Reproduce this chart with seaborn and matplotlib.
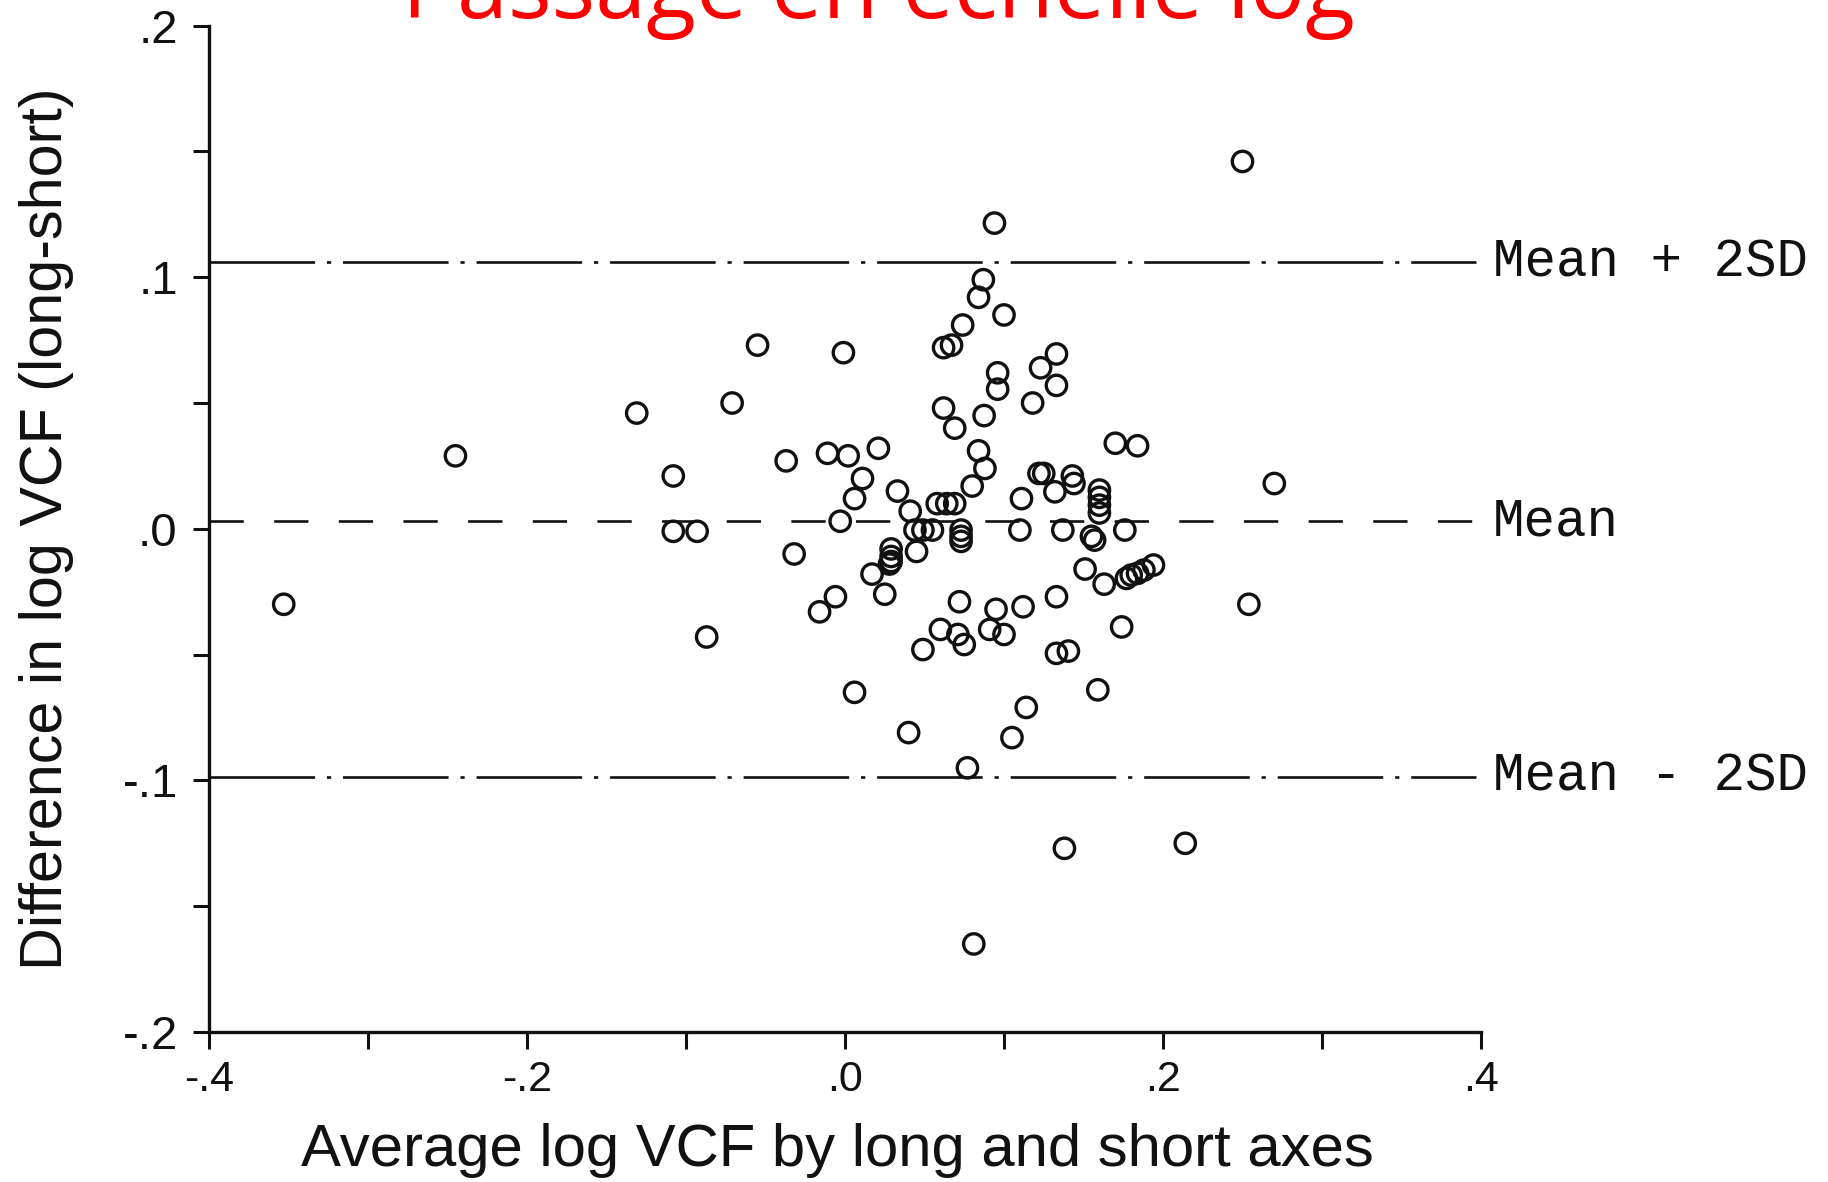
import matplotlib
matplotlib.use("Agg")
import matplotlib.pyplot as plt
import seaborn as sns
import pandas as pd
from matplotlib.ticker import FixedLocator, FixedFormatter

# ---------------- data ----------------
title_text = "Passage en échelle log"
x_label = "Average log VCF by long and short axes"
y_label = "Difference in log VCF (long-short)"

avg_log_vcf = [
    -0.353, -0.245, -0.131, -0.108, -0.108, -0.093, -0.087, -0.071, -0.055, -0.037,
    -0.032, -0.016, -0.011, -0.006, -0.003, -0.001, 0.002, 0.006, 0.011, 0.006,
    0.017, 0.021, 0.025, 0.029, 0.029, 0.029, 0.028, 0.033, 0.041, 0.040,
    0.045, 0.044, 0.049, 0.055, 0.049, 0.058, 0.064, 0.069, 0.060, 0.062,
    0.062, 0.067, 0.069, 0.072, 0.071, 0.075, 0.074, 0.073, 0.073, 0.073,
    0.077, 0.080, 0.084, 0.081, 0.084, 0.087, 0.088, 0.0875, 0.094, 0.091,
    0.095, 0.096, 0.096, 0.100, 0.100, 0.105, 0.110, 0.111, 0.112, 0.114,
    0.118, 0.122, 0.125, 0.123, 0.133, 0.133, 0.132, 0.133, 0.133, 0.137,
    0.138, 0.1405, 0.143, 0.144, 0.151, 0.155, 0.157, 0.159, 0.160, 0.160,
    0.160, 0.160, 0.163, 0.170, 0.174, 0.176, 0.177, 0.180, 0.184, 0.188,
    0.184, 0.194, 0.214, 0.250, 0.254, 0.270,
]
diff_log_vcf = [
    -0.030, 0.029, 0.046, 0.021, -0.001, -0.001, -0.043, 0.050, 0.073, 0.027,
    -0.010, -0.033, 0.030, -0.027, 0.003, 0.070, 0.029, 0.012, 0.020, -0.065,
    -0.018, 0.032, -0.026, -0.008, -0.011, -0.013, -0.014, 0.015, 0.007, -0.081,
    -0.009, -0.0005, -0.0005, -0.0005, -0.048, 0.010, 0.010, 0.010, -0.040, 0.048,
    0.072, 0.073, 0.040, -0.029, -0.042, -0.046, 0.081, -0.0005, -0.003, -0.005,
    -0.095, 0.017, 0.031, -0.165, 0.092, 0.099, 0.024, 0.045, 0.1215, -0.040,
    -0.032, 0.062, 0.0555, -0.042, 0.085, -0.083, -0.0005, 0.012, -0.031, -0.071,
    0.050, 0.022, 0.022, 0.064, 0.0695, 0.057, 0.0147, -0.027, -0.0495, -0.0005,
    -0.127, -0.0486, 0.021, 0.018, -0.016, -0.003, -0.0045, -0.064, 0.0154, 0.0125,
    0.0094, 0.0063, -0.022, 0.034, -0.039, -0.0005, -0.0197, -0.0184, -0.0177, -0.0164,
    0.033, -0.0144, -0.125, 0.146, -0.030, 0.018,
]

mean_diff = 0.003
upper_limit = 0.106
lower_limit = -0.0985
limit_values = [upper_limit, mean_diff, lower_limit]
limit_labels = ["Mean + 2SD", "Mean", "Mean - 2SD"]

x_ticks = [-0.4, -0.2, 0.0, 0.2, 0.4]
x_tick_labels = ["-.4", "-.2", ".0", ".2", ".4"]
x_minor_ticks = [-0.3, -0.1, 0.1, 0.3]
y_ticks = [-0.2, -0.1, 0.0, 0.1, 0.2]
y_tick_labels = ["-.2", "-.1", ".0", ".1", ".2"]
y_minor_ticks = [-0.15, -0.05, 0.05, 0.15]

# ---------------- figure ----------------
sns.set_theme(style="white")
plt.rcParams["font.family"] = ["Liberation Sans", "DejaVu Sans"]

W, H = 1828, 1182
fig = plt.figure(figsize=(W / 100, H / 100), dpi=100)
fig.patch.set_facecolor("white")
ax_l, ax_r, ax_t, ax_b = 209, 1481, 25.6, 1032
ax = fig.add_axes([ax_l / W, 1 - ax_b / H, (ax_r - ax_l) / W, (ax_b - ax_t) / H])
ax.set_facecolor("white")

df = pd.DataFrame({"avg": avg_log_vcf, "diff": diff_log_vcf})
sns.scatterplot(data=df, x="avg", y="diff", ax=ax, marker="o", s=215,
                legend=False, zorder=3)
pts = ax.collections[0]
pts.set_facecolor("none")
pts.set_edgecolor("#111111")
pts.set_linewidth(2.4)
pts.set_clip_on(False)

line_end = 0.397
dashdot = [(0, (40, 4.5, 1.6, 4.5))]
ax.hlines(upper_limit, -0.4, line_end, colors="#111111", linewidth=1.9,
          linestyles=dashdot, zorder=2)
ax.hlines(lower_limit, -0.4, line_end, colors="#111111", linewidth=1.9,
          linestyles=dashdot, zorder=2)
ax.hlines(mean_diff, -0.4, line_end, colors="#111111", linewidth=1.9,
          linestyles=[(0, (13, 11.5))], zorder=2)

label_x = 0.4075
limit_texts = []
for val, lab in zip(limit_values, limit_labels):
    t = ax.text(label_x, val, lab, ha="left", va="center", clip_on=False,
                family=["Liberation Mono", "DejaVu Sans Mono"], fontsize=37.8,
                color="#111111")
    limit_texts.append(t)

ax.set_xlim(-0.4, 0.4)
ax.set_ylim(-0.2, 0.2)
sns.despine(ax=ax)
for side in ["left", "bottom"]:
    ax.spines[side].set_color("#111111")
    ax.spines[side].set_linewidth(2.4)

ax.xaxis.set_major_locator(FixedLocator(x_ticks))
ax.xaxis.set_major_formatter(FixedFormatter(x_tick_labels))
ax.xaxis.set_minor_locator(FixedLocator(x_minor_ticks))
ax.yaxis.set_major_locator(FixedLocator(y_ticks))
ax.yaxis.set_major_formatter(FixedFormatter(y_tick_labels))
ax.yaxis.set_minor_locator(FixedLocator(y_minor_ticks))

ax.tick_params(axis="y", which="both", direction="out", length=11.5, width=2.2,
               color="#111111", left=True, labelsize=34, pad=11, labelcolor="#111111")
ax.tick_params(axis="x", which="both", direction="out", length=12, width=2.2,
               color="#111111", bottom=True, labelsize=31, pad=8, labelcolor="#111111")

ax.set_xlabel(x_label, fontsize=38, color="#111111")
ax.set_ylabel(y_label, fontsize=38, color="#111111")
ax.xaxis.label.set_va("baseline")
ax.xaxis.set_label_coords((837 - ax_l) / (ax_r - ax_l), (ax_b - 1166) / (ax_b - ax_t))
ax.yaxis.label.set_va("center")
ax.yaxis.label.set_ha("center")
ax.yaxis.set_label_coords((47 - ax_l) / (ax_r - ax_l), 0.5)

title = fig.text(402 / W, 1 - 18 / H, title_text, ha="left", va="baseline",
                 color="#ff0000", fontsize=80,
                 family=["Open Sans", "DejaVu Sans"])

# fit text widths to the reference
fig.canvas.draw()
rend = fig.canvas.get_renderer()


def fit(t, target, use_height=False):
    bb = t.get_window_extent(rend)
    cur = bb.height if use_height else bb.width
    t.set_fontsize(t.get_fontsize() * target / cur)


fit(title, 951)
fit(ax.xaxis.label, 1073)
fit(ax.yaxis.label, 880, use_height=True)
fit(limit_texts[0], 315)
for t in limit_texts[1:]:
    t.set_fontsize(limit_texts[0].get_fontsize())

fig.savefig("out.png", dpi=100, facecolor="white")
